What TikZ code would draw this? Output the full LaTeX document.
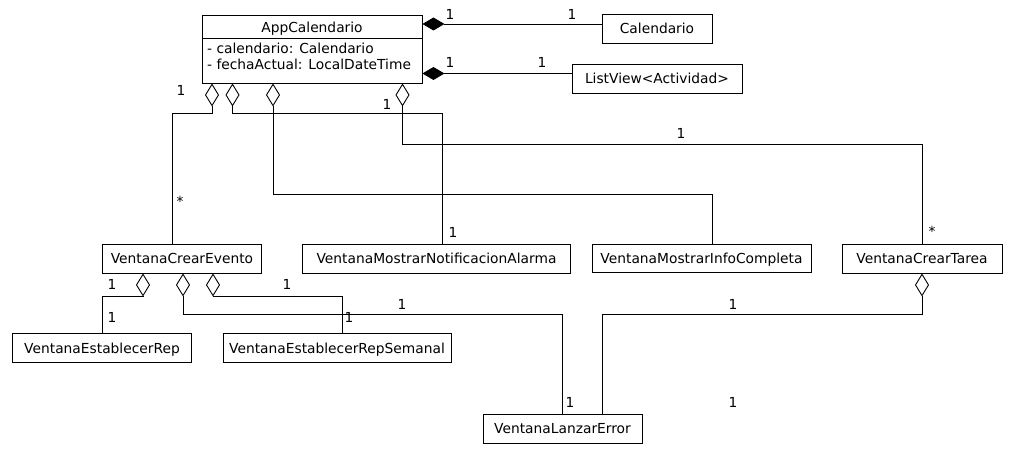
\documentclass[tikz,border=0pt]{standalone}
\usepackage{fontspec}
\setmainfont{DejaVu Sans}
\usetikzlibrary{arrows.meta}
\begin{document}
\begin{tikzpicture}[x=1pt,y=-1pt,
  every node/.style={font=\fontsize{13.8}{16}\selectfont, inner sep=0pt},
  cls/.style={draw, line width=0.9pt, text height=10pt, text depth=0pt},
  lab/.style={anchor=base},
  conn/.style={line width=0.9pt},
  agg/.style={conn, {Diamond[open,length=23pt,width=14pt,line width=0.9pt]}-},
  comp/.style={conn, {Diamond[length=22pt,width=13pt]}-}
]
\useasboundingbox (0,0) rectangle (1017,454);

% AppCalendario
\node[draw, line width=0.9pt, minimum width=220pt, minimum height=68pt] (app) at (312,49) {};
\node[lab] (apptitle) at (312,33) {AppCalendario};
\draw[conn] (app.west |- 0,38.3) -- (app.east |- 0,38.3);
\node[anchor=base west] (attr1) at (207,54) {- calendario: Calendario};
\node[anchor=base west] (attr2) at (207,70) {- fechaActual: LocalDateTime};

% other classes
\node[cls, minimum width=110pt, minimum height=29pt] (cal) at (657,28.5) {Calendario};
\node[cls, minimum width=170pt, minimum height=29pt] (lv) at (657,78.5) {ListView<Actividad>};
\node[cls, minimum width=159pt, minimum height=29pt] (vce) at (182,258.5) {VentanaCrearEvento};
\node[cls, minimum width=268pt, minimum height=29pt] (vmna) at (436.5,258.5) {VentanaMostrarNotificacionAlarma};
\node[cls, minimum width=219pt, minimum height=28pt] (vmic) at (701.5,258.5) {VentanaMostrarInfoCompleta};
\node[cls, minimum width=160pt, minimum height=29pt] (vct) at (922,258.5) {VentanaCrearTarea};
\node[cls, minimum width=179pt, minimum height=29pt] (ver) at (102,348) {VentanaEstablecerRep};
\node[cls, minimum width=228pt, minimum height=29pt] (vers) at (337,348) {VentanaEstablecerRepSemanal};
\node[cls, minimum width=159pt, minimum height=29pt] (vle) at (562.5,428.5) {VentanaLanzarError};

% compositions
\draw[comp] (app.east |- 0,24) -- (cal.west |- 0,24);
\draw[comp] (app.east |- 0,73.5) -- (lv.west |- 0,73.5);

% aggregations from AppCalendario
\draw[agg] (212,0 |- app.south) -- (212,113) -- (172,113) -- (172,0 |- vce.north);
\draw[agg] (232.5,0 |- app.south) -- (232.5,113) -- (442,113) -- (442,0 |- vmna.north);
\draw[agg] (273,0 |- app.south) -- (273,194) -- (712.5,194) -- (712.5,0 |- vmic.north);
\draw[agg] (402.5,0 |- app.south) -- (402.5,144) -- (922,144) -- (922,0 |- vct.north);

% aggregations from VentanaCrearEvento
\draw[agg] (143,0 |- vce.south) -- (143,296) -- (102,296) -- (102,0 |- ver.north);
\draw[agg] (183,0 |- vce.south) -- (183,314) -- (562,314) -- (562,0 |- vle.north);
\draw[agg] (213,0 |- vce.south) -- (213,296) -- (342,296) -- (342,0 |- vers.north);

% aggregation from VentanaCrearTarea
\draw[agg] (922,0 |- vct.south) -- (922,314) -- (602,314) -- (602,0 |- vle.north);

% multiplicities
\node[lab] (m1) at (450,20) {1};
\node[lab] (m2) at (572,20) {1};
\node[lab] (m3) at (450,68) {1};
\node[lab] (m4) at (542,68) {1};
\node[lab] (m5) at (181,96) {1};
\node[lab] (m6) at (387,110) {1};
\node[lab] (m7) at (180,207) {*};
\node[lab] (m8) at (453,238) {1};
\node[lab] (m9) at (681,139) {1};
\node[lab] (m10) at (932,237) {*};
\node[lab] (m11) at (112,290) {1};
\node[lab] (m12) at (112,322) {1};
\node[lab] (m13) at (287,290) {1};
\node[lab] (m14) at (349,322) {1};
\node[lab] (m15) at (402,309) {1};
\node[lab] (m16) at (570,407) {1};
\node[lab] (m17) at (733,309) {1};
\node[lab] (m18) at (733,407) {1};
\end{tikzpicture}
\end{document}
